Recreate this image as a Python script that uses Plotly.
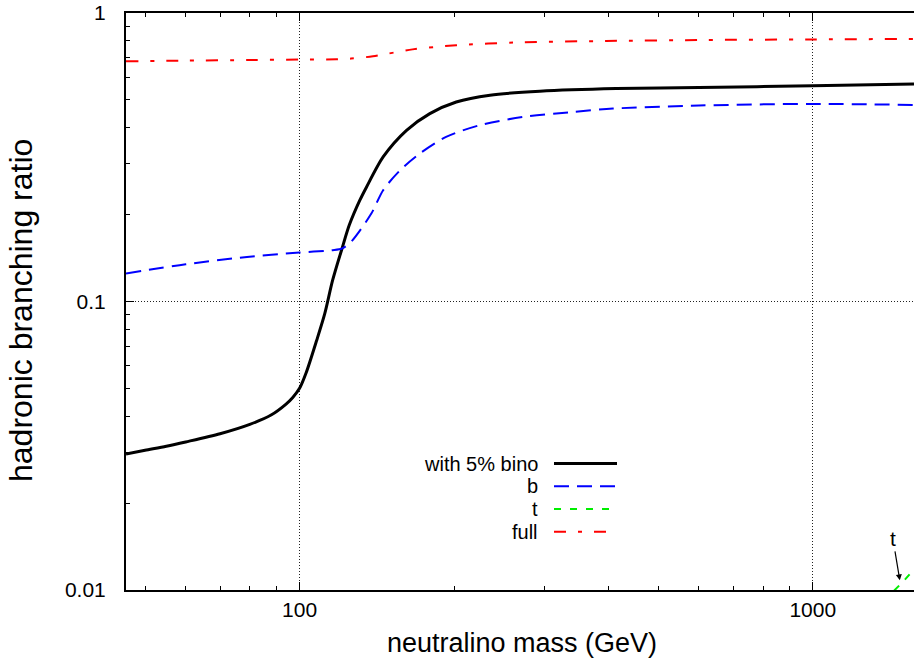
import plotly.graph_objects as go
import numpy as np

# ---- data ----
mass_bino = [45.9, 50, 55, 60, 70, 80, 88, 94, 97, 100, 103, 108, 112, 116, 121, 125, 131,
             135, 145.5, 161.6, 179.4, 202, 235, 294, 414, 600, 1000, 1575]
br_bino = [0.0296, 0.0305, 0.0315, 0.0326, 0.0348, 0.0375, 0.0404, 0.0440, 0.0465, 0.0500, 0.0566,
           0.0734, 0.0909, 0.1185, 0.1527, 0.184, 0.224, 0.249, 0.317, 0.392, 0.448,
           0.4915, 0.519, 0.5355, 0.547, 0.552, 0.559, 0.567]

mass_b = [45.9, 60, 79, 100, 116, 121, 126, 138, 145.5, 157, 171.5, 193, 224, 272, 341,
          408, 600, 1000, 1575]
br_b = [0.125, 0.1346, 0.1427, 0.1478, 0.1506, 0.1527, 0.161, 0.2018, 0.243, 0.285,
        0.3257, 0.3718, 0.408, 0.436, 0.454, 0.4663, 0.478, 0.484, 0.480]

mass_t = [1440, 1500, 1575]
br_t = [0.00995, 0.0107, 0.0118]

mass_full = [45.9, 60, 80, 100, 118, 126, 139, 166, 202, 261, 396, 600, 1000, 1575]
br_full = [0.680, 0.684, 0.687, 0.690, 0.691, 0.695, 0.708, 0.748, 0.773, 0.790, 0.800,
           0.806, 0.810, 0.813]

x_ticks = [100, 1000]
x_ticktext = ["100", "1000"]
y_ticks = [0.01, 0.1, 1]
y_ticktext = ["0.01", "0.1", "1"]
x_minor = [50, 60, 70, 80, 90, 200, 300, 400, 500, 600, 700, 800, 900]
y_minor = [0.02, 0.03, 0.04, 0.05, 0.06, 0.07, 0.08, 0.09,
           0.2, 0.3, 0.4, 0.5, 0.6, 0.7, 0.8, 0.9]

legend_names = ["with 5% bino", "b", "t", "full"]

FONT = "Liberation Sans, Arial, sans-serif"

styles = [
    dict(color="#000000", width=3, dash="solid"),
    dict(color="#0000ff", width=2, dash="15px,8px"),
    dict(color="#00ee00", width=2, dash="7px,9px"),
    dict(color="#ff0000", width=2, dash="12px,12px,4px,12px"),
]

fig = go.Figure()
series = [(mass_bino, br_bino), (mass_b, br_b), (mass_t, br_t), (mass_full, br_full)]
for (xs, ys), st, name in zip(series, styles, legend_names):
    fig.add_trace(go.Scatter(x=xs, y=ys, mode="lines", name=name,
                             line=dict(color=st["color"], width=st["width"], dash=st["dash"],
                                       shape="spline", smoothing=0.8),
                             showlegend=False))

W, H = 914, 662
ml, mr, mt, mb = 126, 0, 13, 72
pw, ph = W - ml - mr, H - mt - mb

def px(p):
    return (p - ml) / pw

def py(q):
    return (H - mb - q) / ph

# custom gnuplot-style legend (text left, sample right)
rows = [463.5, 486.3, 509, 531.7]
shapes = []
annotations = []
for name, st, r in zip(legend_names, styles, rows):
    annotations.append(dict(xref="paper", yref="paper", x=px(540), y=py(r), text=name,
                            showarrow=False, xanchor="right", yanchor="middle",
                            font=dict(family=FONT, size=20, color="black")))
    shapes.append(dict(type="line", xref="paper", yref="paper", x0=px(554), x1=px(617),
                       y0=py(r), y1=py(r),
                       line=dict(color=st["color"], width=st["width"], dash=st["dash"])))

# "t" arrow annotation
annotations.append(dict(xref="x", yref="y", x=np.log10(1478), y=np.log10(0.0108), text="t",
                        showarrow=True, arrowhead=2, arrowsize=1, arrowwidth=1.2,
                        arrowcolor="black", ax=-7, ay=-42,
                        font=dict(family=FONT, size=21, color="black")))

# axis titles
annotations.append(dict(xref="paper", yref="paper", x=px(522), y=py(643),
                        text="neutralino mass (GeV)", showarrow=False,
                        xanchor="center", yanchor="middle",
                        font=dict(family=FONT, size=27, color="black")))
annotations.append(dict(xref="paper", yref="paper", x=px(21), y=py(311),
                        text="hadronic branching ratio", showarrow=False, textangle=-90,
                        xanchor="center", yanchor="middle",
                        font=dict(family=FONT, size=32, color="black")))

fig.update_layout(
    width=W, height=H,
    margin=dict(l=ml, r=mr, t=mt, b=mb),
    paper_bgcolor="white", plot_bgcolor="white",
    font=dict(family=FONT, size=21, color="black"),
    shapes=shapes, annotations=annotations,
    showlegend=False,
)

fig.update_xaxes(
    type="log", range=[np.log10(45.9), np.log10(1575)],
    tickmode="array", tickvals=x_ticks, ticktext=x_ticktext,
    ticks="inside", ticklen=8, tickwidth=1, tickcolor="black",
    showline=True, linewidth=2, linecolor="black", mirror="ticks",
    showgrid=True, gridcolor="#222", griddash="1px,2px", gridwidth=1,
    zeroline=False, ticklabelstandoff=0,
    tickfont=dict(family=FONT, size=21, color="black"),
    minor=dict(tickmode="array", tickvals=x_minor, ticks="inside", ticklen=4,
               tickcolor="black", tickwidth=1, showgrid=False),
)
fig.update_yaxes(
    type="log", range=[-2, 0],
    tickmode="array", tickvals=y_ticks, ticktext=y_ticktext,
    ticks="inside", ticklen=8, tickwidth=1, tickcolor="black",
    showline=True, linewidth=2, linecolor="black", mirror=False,
    showgrid=True, gridcolor="#222", griddash="1px,2px", gridwidth=1,
    zeroline=False, ticklabelstandoff=14,
    tickfont=dict(family=FONT, size=21, color="black"),
    minor=dict(tickmode="array", tickvals=y_minor, ticks="inside", ticklen=4,
               tickcolor="black", tickwidth=1, showgrid=False),
)

fig.write_html("out.html")
